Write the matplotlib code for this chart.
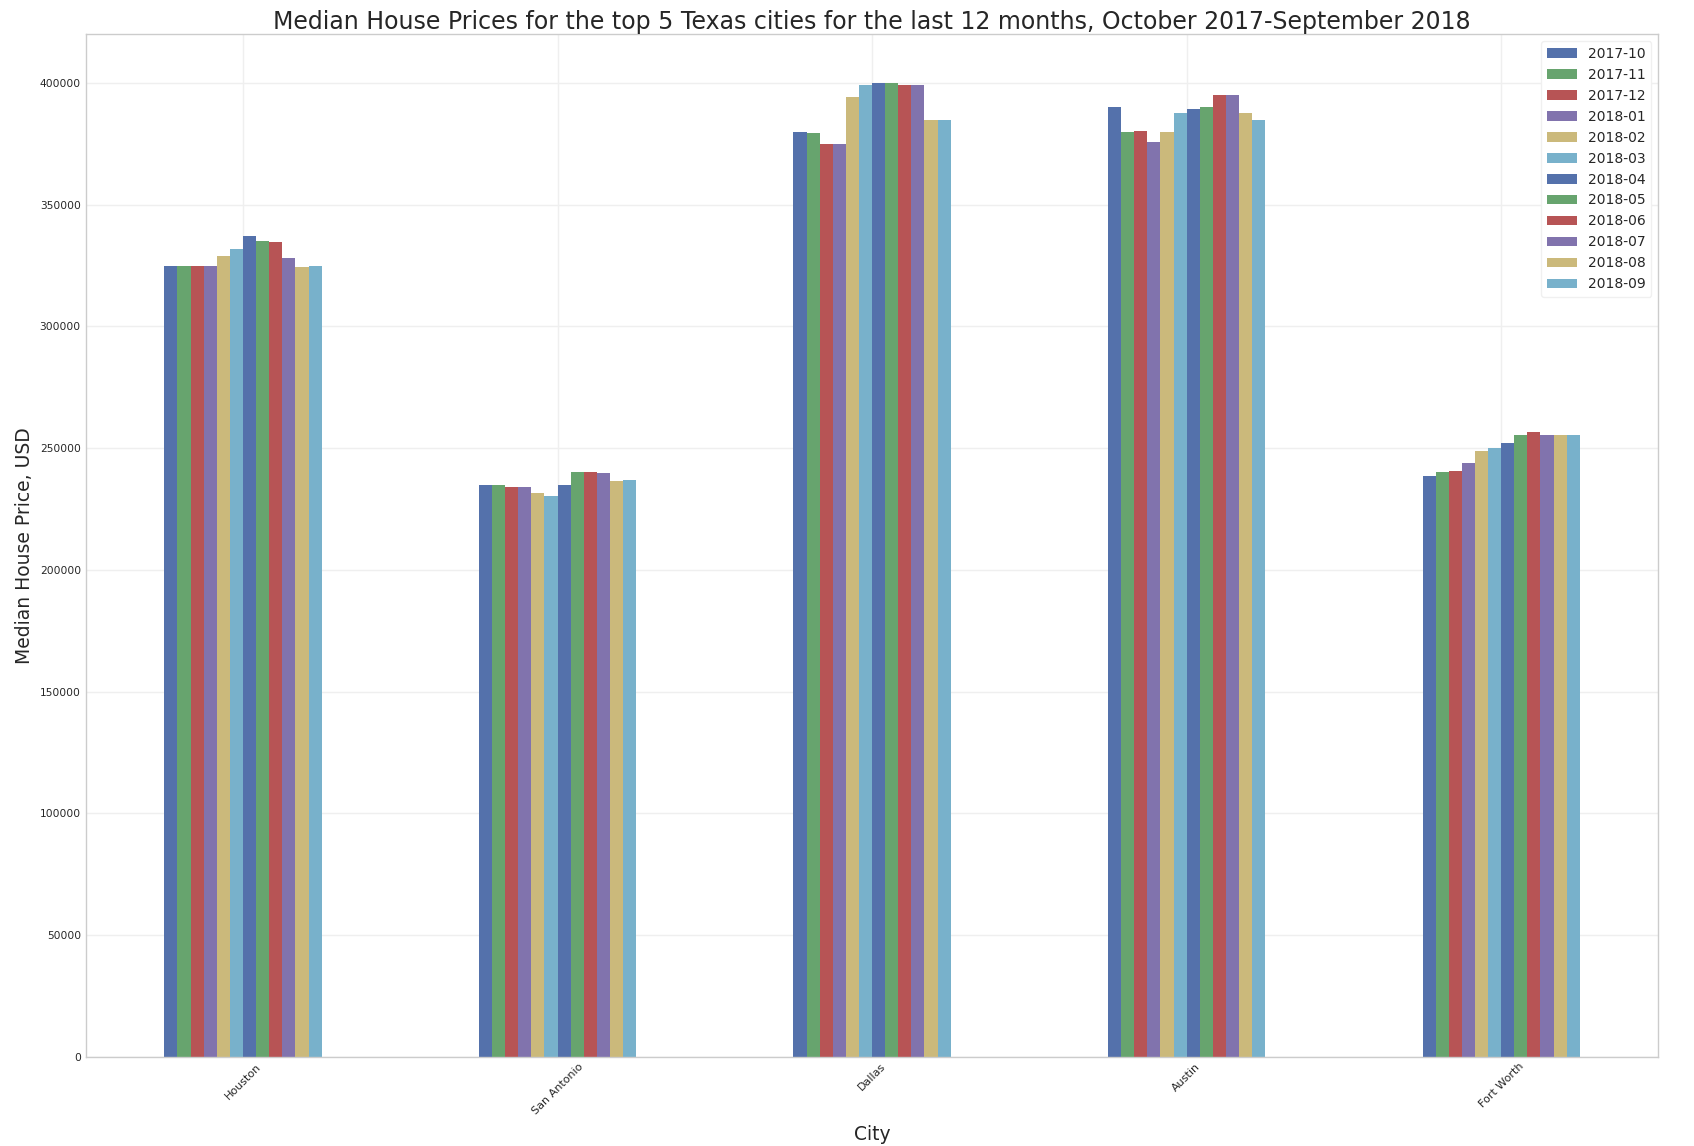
"""
Median house prices for the top 5 Texas cities, Oct 2017 - Sep 2018.
Grouped bar chart, one bar per month within each city.
"""
import matplotlib
matplotlib.use("Agg")
import matplotlib.pyplot as plt
import numpy as np

cities = ["Houston", "San Antonio", "Dallas", "Austin", "Fort Worth"]
months = ["2017-10", "2017-11", "2017-12", "2018-01", "2018-02", "2018-03",
          "2018-04", "2018-05", "2018-06", "2018-07", "2018-08", "2018-09"]

# one list per city, values in month order
houston = [325000, 325000, 325000, 325000, 329000, 331900,
           337000, 335000, 334900, 328000, 324500, 325000]
san_antonio = [235000, 235000, 234000, 234000, 231400, 230300,
               235000, 240000, 240000, 239800, 236500, 236900]
dallas = [380000, 379300, 375000, 375000, 394400, 399400,
          400000, 400000, 399400, 399400, 385000, 385000]
austin = [390000, 380000, 380500, 375900, 380000, 387500,
          389400, 390000, 395000, 395000, 387700, 385000]
fort_worth = [238600, 240200, 240500, 243800, 249000, 250100,
              252200, 255300, 256800, 255300, 255300, 255300]

# muted seaborn-ish colours
palette = ["#5471AB", "#67A46E", "#B75455", "#8173AD", "#CBB97B", "#78B1CB"]

plt.style.use("seaborn-v0_8-whitegrid")
plt.rcParams["font.family"] = ["DejaVu Sans"]

values = np.array([houston, san_antonio, dallas, austin, fort_worth])
n_months = len(months)
group_width = 0.5
bar_w = group_width / n_months
x = np.arange(len(cities))

fig = plt.figure(figsize=(16.94, 11.46), dpi=100)
ax = fig.add_axes([0.0506, 0.078, 0.9284, 0.892])

for i, month in enumerate(months):
    offs = -group_width / 2 + bar_w * (i + 0.5)
    ax.bar(x + offs, values[:, i], width=bar_w, color=palette[i % 6],
           label=month, linewidth=0)

ax.set_xlim(-0.5, 4.5)
ax.set_ylim(0, 420000)
ax.set_xticks(x)
ax.set_xticklabels(cities, rotation=45, fontsize=8)
ax.tick_params(axis="y", labelsize=7.7)
ax.ticklabel_format(axis="y", style="plain", useOffset=False)
ax.grid(True, color="#efefef", linewidth=1)
for s in ax.spines.values():
    s.set_visible(True)
    s.set_color("#cccccc")

ax.set_title("Median House Prices for the top 5 Texas cities for the last 12 months, "
             "October 2017-September 2018", fontsize=17, color="#262626", pad=4)
ax.set_xlabel("City", fontsize=13.5, color="#262626", labelpad=6)
ax.set_ylabel("Median House Price, USD", fontsize=13.5, color="#262626")
ax.legend(loc="upper right", fontsize=10, frameon=True, facecolor="white",
          edgecolor="#f0f0f0", framealpha=1, handlelength=2.2)

fig.savefig("out.png", dpi=100)
